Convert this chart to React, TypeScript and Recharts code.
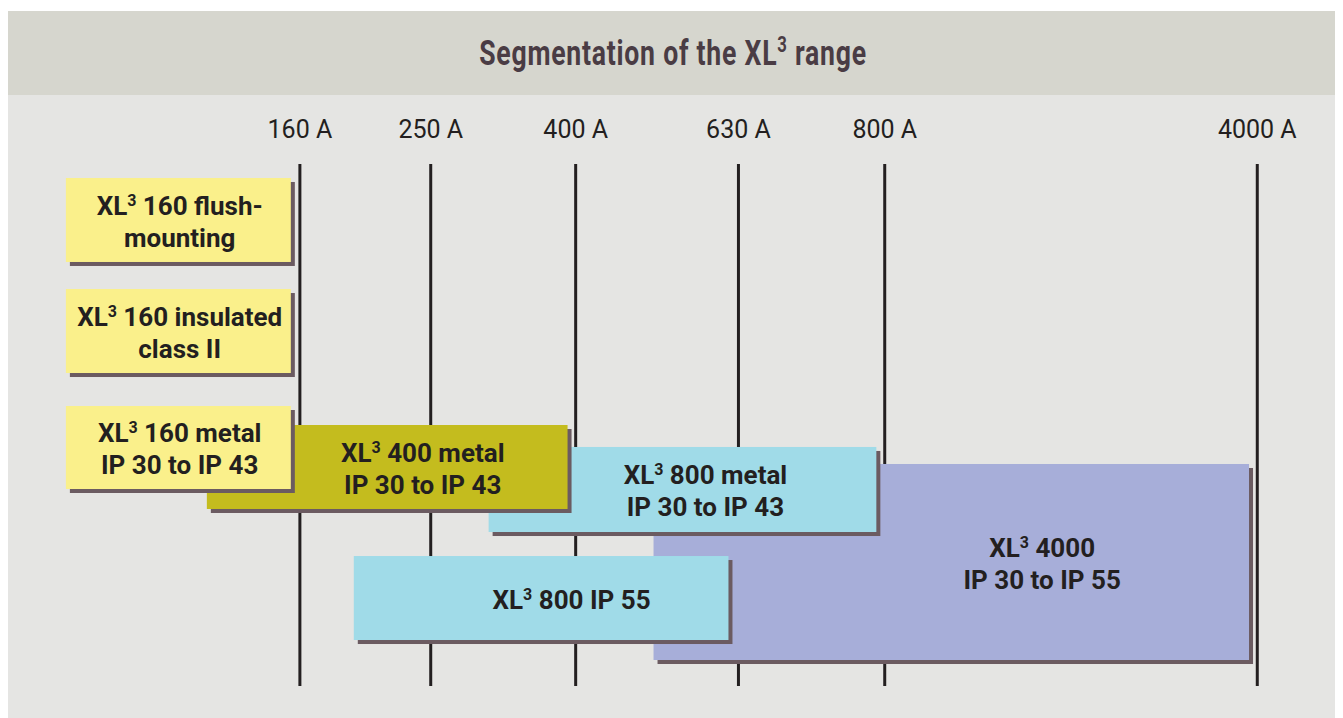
import { ComposedChart, ReferenceArea, ReferenceLine, XAxis, YAxis } from 'recharts'

// schematic position of each current rating along the range (0-100)
const ratingLabels = ['160 A', '250 A', '400 A', '630 A', '800 A', '4000 A']
const ratingPositions = [21.93, 31.76, 42.65, 54.88, 65.87, 93.86]

// cabinets, listed back to front
const boxSeries = ['4000', '800', '800', '400', '160', '160', '160']
const boxLine1 = [' 4000', ' 800 IP 55', ' 800 metal', ' 400 metal', ' 160 flush-', ' 160 insulated', ' 160 metal']
const boxLine2 = ['IP 30 to IP 55', '', 'IP 30 to IP 43', 'IP 30 to IP 43', 'mounting', 'class II', 'IP 30 to IP 43']
const boxFrom = [48.5, 25.98, 36.11, 14.94, 4.35, 4.35, 4.35]
const boxTo = [93.24, 54.13, 65.24, 42.04, 21.25, 21.25, 21.25]
const boxTop = [57.47, 75.1, 54.21, 50.0, 2.68, 23.95, 46.36]
const boxBottom = [95.02, 91.19, 70.5, 66.09, 18.77, 40.04, 62.26]
const labelAt = [77.7, 42.34, 52.4, 31.16, 12.9, 12.9, 12.9]

const seriesColors: Record<string, string> = {
  '160': '#faf08b',
  '400': '#c4bc1e',
  '800': '#a0dbe8',
  '4000': '#a7aed9',
}
const shadowColor = '#6b5b61'
const inkColor = '#231f20'
const fontFamily = 'Roboto, "Noto Sans", sans-serif'

const chartData = ratingPositions.map((pos, i) => ({ pos, level: 0, label: ratingLabels[i] }))

function makeBoxShape(i: number) {
  return (props: any) => {
    const { x, y, width, height } = props
    const cx = x + ((labelAt[i] - boxFrom[i]) / (boxTo[i] - boxFrom[i])) * width
    const cy = y + height / 2
    const twoLines = boxLine2[i] !== ''
    const base1 = twoLines ? cy - 5 : cy + 11
    return (
      <g>
        <rect x={x + 4} y={y + 4} width={width} height={height} fill={shadowColor} />
        <rect x={x} y={y} width={width} height={height} fill={seriesColors[boxSeries[i]]} />
        <text
          x={cx}
          y={base1}
          textAnchor="middle"
          fontFamily={fontFamily}
          fontWeight={700}
          fontSize={26}
          fill={inkColor}
        >
          <tspan>XL</tspan>
          <tspan fontSize={16} dy={-9}>3</tspan>
          <tspan dy={9}>{boxLine1[i]}</tspan>
        </text>
        {twoLines && (
          <text
            x={cx}
            y={base1 + 32}
            textAnchor="middle"
            fontFamily={fontFamily}
            fontWeight={700}
            fontSize={26}
            fill={inkColor}
          >
            {boxLine2[i]}
          </text>
        )}
      </g>
    )
  }
}

export default function App() {
  return (
    <div style={{ paddingTop: 3 }}>
      <div style={{ width: 1331, background: '#e5e5e3' }}>
        <div
          style={{
            height: 84,
            background: '#d6d6ce',
            display: 'flex',
            alignItems: 'center',
            justifyContent: 'center',
          }}
        >
          <span
            style={{
              display: 'inline-block',
              fontFamily,
              fontWeight: 700,
              fontSize: 35,
              color: '#4a3c44',
              transform: 'scaleX(0.76)',
              letterSpacing: 1,
            }}
          >
            Segmentation of the XL<sup style={{ fontSize: 22 }}>3</sup> range
          </span>
        </div>
        <ComposedChart width={1331} height={623} data={chartData} margin={{ top: 29, right: 0, bottom: 32, left: 0 }}>
          <XAxis
            dataKey="pos"
            type="number"
            orientation="top"
            domain={[0, 100]}
            allowDataOverflow
            ticks={ratingPositions}
            interval={0}
            height={40}
            axisLine={false}
            tickLine={false}
            tickSize={0}
            tickMargin={26}
            tickFormatter={(v: number) => ratingLabels[ratingPositions.indexOf(v)]}
            tick={{ fill: inkColor, fontSize: 25, fontFamily }}
          />
          <YAxis hide dataKey="level" type="number" domain={[0, 100]} allowDataOverflow reversed />
          {ratingPositions.map((p) => (
            <ReferenceLine key={p} x={p} stroke={inkColor} strokeWidth={3} {...({ zIndex: -50 } as any)} />
          ))}
          {boxSeries.map((_, i) => (
            <ReferenceArea
              key={i}
              x1={boxFrom[i]}
              x2={boxTo[i]}
              y1={boxTop[i]}
              y2={boxBottom[i]}
              ifOverflow="visible"
              shape={makeBoxShape(i)}
            />
          ))}
        </ComposedChart>
      </div>
    </div>
  )
}
